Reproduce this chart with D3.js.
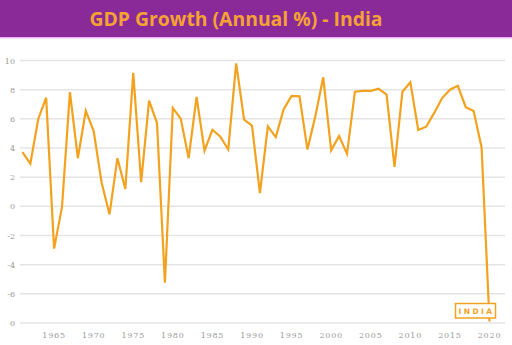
<!DOCTYPE html>
<html>
<head>
<meta charset="utf-8">
<script src="https://cdn.jsdelivr.net/npm/d3@7"></script>
<style>
  body { margin: 0; background: #fff; }
  svg { display: block; }
</style>
</head>
<body>
<div id="chart-container"></div>
<script>
const years = d3.range(1961, 2021);
const growth = [3.72, 2.93, 5.99, 7.45, -2.9, -0.06, 7.83, 3.3, 6.54, 5.16,
  1.64, -0.55, 3.30, 1.19, 9.15, 1.66, 7.25, 5.71, -5.24, 6.74,
  6.01, 3.3, 7.5, 3.82, 5.25, 4.78, 3.9, 9.8, 5.95, 5.53,
  0.9, 5.48, 4.75, 6.66, 7.57, 7.55, 3.9, 6.18, 8.85, 3.84,
  4.82, 3.6, 7.86, 7.92, 7.92, 8.06, 7.66, 2.7, 7.86, 8.50,
  5.24, 5.46, 6.39, 7.41, 8.00, 8.26, 6.80, 6.53, 4.04, -7.9];
const yTicks = [10, 8, 6, 4, 2, 0, -2, -4, -6, -8];
const yTickLabels = ["10", "8", "6", "4", "2", "0", "-2", "-4", "-6", "0"];
const xTicks = [1965, 1970, 1975, 1980, 1985, 1990, 1995, 2000, 2005, 2010, 2015, 2020];
const title = "GDP Growth (Annual %) - India";
const seriesName = "INDIA";

const width = 512;
const height = 345;

const svg = d3.select("#chart-container")
    .append("svg")
    .attr("width", width)
    .attr("height", height);

// title band
svg.append("rect")
    .attr("x", 0).attr("y", 0)
    .attr("width", width).attr("height", 37)
    .attr("fill", "#8a2a98");
svg.append("rect")
    .attr("x", 0).attr("y", 37)
    .attr("width", width).attr("height", 1.5)
    .attr("fill", "#e9b8ef");
svg.append("text")
    .attr("x", 236).attr("y", 26)
    .attr("text-anchor", "middle")
    .attr("font-family", "'Open Sans', sans-serif")
    .attr("font-weight", "bold")
    .attr("font-size", 20)
    .attr("textLength", 293)
    .attr("lengthAdjust", "spacingAndGlyphs")
    .attr("fill", "#f5a234")
    .text(title);

const xScale = d3.scaleLinear()
    .domain([1960, 2020])
    .range([14.5, 489.5]);

const yScale = d3.scaleLinear()
    .domain([-8, 10])
    .range([323, 60.5]);

// gridlines
svg.append("g")
    .selectAll("line")
    .data(yTicks)
    .enter()
    .append("line")
    .attr("x1", 20).attr("x2", 505)
    .attr("y1", d => yScale(d)).attr("y2", d => yScale(d))
    .attr("stroke", "#e4e4e4")
    .attr("stroke-width", 1.5);

// y labels
svg.append("g")
    .selectAll("text")
    .data(yTicks)
    .enter()
    .append("text")
    .attr("x", 15)
    .attr("y", d => yScale(d) + 3)
    .attr("text-anchor", "end")
    .attr("font-family", "'DejaVu Serif', serif")
    .attr("font-size", 8)
    .attr("fill", "#999")
    .text((d, i) => yTickLabels[i]);

// x labels
svg.append("g")
    .selectAll("text")
    .data(xTicks)
    .enter()
    .append("text")
    .attr("x", d => xScale(d))
    .attr("y", 338)
    .attr("text-anchor", "middle")
    .attr("font-family", "'DejaVu Serif', serif")
    .attr("font-size", 8)
    .attr("letter-spacing", 0.8)
    .attr("fill", "#999")
    .text(d => d);

// line
const line = d3.line()
    .x((d, i) => xScale(years[i]))
    .y(d => yScale(d));

svg.append("path")
    .datum(growth)
    .attr("d", line)
    .attr("fill", "none")
    .attr("stroke", "#f2a21e")
    .attr("stroke-width", 2.2)
    .attr("stroke-linejoin", "miter");

// series label box
const last = years[years.length - 1];
const bx = xScale(last) - 34;
svg.append("rect")
    .attr("x", bx).attr("y", 303.5)
    .attr("width", 40).attr("height", 14.5)
    .attr("fill", "#fff")
    .attr("stroke", "#f2a21e")
    .attr("stroke-width", 1.5);
svg.append("text")
    .attr("x", bx + 21).attr("y", 314)
    .attr("text-anchor", "middle")
    .attr("font-family", "'DejaVu Sans', sans-serif")
    .attr("font-weight", "bold")
    .attr("font-size", 7.5)
    .attr("letter-spacing", 2.4)
    .attr("fill", "#f2a21e")
    .text(seriesName);
</script>
</body>
</html>
